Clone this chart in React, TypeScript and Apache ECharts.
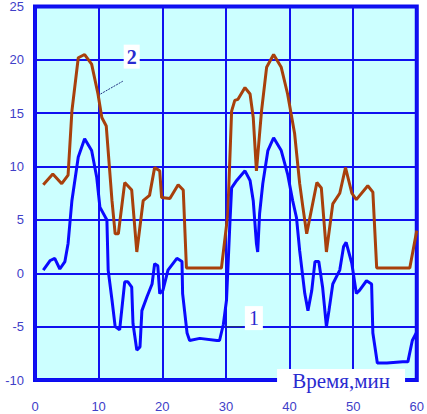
import React, { useEffect, useRef } from "react";
import * as echarts from "echarts";

const xTicks = { min: 0, max: 60, interval: 10 };
const yTicks = { min: -10, max: 25, interval: 5 };

// curve 2 (brown): [time, value]
const curve2: [number, number][] = [
  [1.3, 8.3], [2.8, 9.3], [4.2, 8.4], [5.2, 9.2], [5.8, 15.2], [6.8, 20.2], [7.8, 20.5],
  [8.9, 19.6], [9.9, 16.8], [10.5, 14.6], [11.2, 13.8], [12.1, 6.8], [12.6, 3.7], [13.1, 3.7],
  [14.1, 8.5], [15.2, 7.8], [16.0, 2.0], [17.0, 6.8], [18.0, 7.3], [18.8, 9.9], [19.6, 9.6],
  [19.9, 7.1], [21.2, 7.0], [22.5, 8.3], [23.3, 7.8], [23.8, 0.5], [29.3, 0.5], [30.3, 5.5],
  [30.9, 15.2], [31.4, 16.2], [31.9, 16.3], [33.0, 17.4], [33.8, 16.8], [34.3, 14.6],
  [34.8, 9.6], [35.6, 15.2], [36.4, 19.3], [37.5, 20.5], [38.7, 19.3], [39.7, 16.8],
  [40.8, 13.1], [41.6, 8.4], [42.1, 6.2], [42.7, 3.7], [44.3, 8.5], [45.0, 8.0], [45.8, 2.0],
  [46.8, 6.5], [47.9, 7.5], [48.8, 9.9], [49.8, 7.5], [50.5, 6.9], [52.3, 8.2], [53.1, 7.6],
  [53.7, 0.5], [58.9, 0.5], [60, 4.0],
];

// curve 1 (blue): [time, value]
const curve1: [number, number][] = [
  [1.3, 0.3], [2.4, 1.2], [3.1, 1.4], [3.9, 0.4], [4.7, 1.1], [5.2, 2.8], [5.8, 6.8],
  [6.8, 10.9], [7.8, 12.6], [8.9, 11.5], [9.7, 9.0], [10.2, 6.2], [11.3, 5.0], [11.5, 0.3],
  [12.1, -2.5], [12.6, -5.0], [13.3, -5.3], [14.1, -0.8], [14.6, -0.8], [15.2, -1.3],
  [15.4, -4.7], [16.0, -7.2], [16.5, -6.9], [16.8, -3.5], [17.6, -2.2], [18.4, -1.0],
  [18.8, 0.9], [19.3, 0.7], [19.6, -1.9], [20.1, -1.6], [20.9, 0.3], [22.3, 1.4], [23.1, 1.1],
  [23.2, -1.9], [23.9, -5.6], [24.3, -6.3], [25.9, -6.1], [28.6, -6.3], [29.0, -6.3],
  [29.6, -4.8], [30.1, -2.5], [30.6, 4.3], [30.9, 8.0], [31.7, 8.7], [33.0, 9.6], [33.8, 8.7],
  [34.3, 6.8], [34.8, 2.8], [35.0, 2.0], [35.3, 5.6], [35.8, 8.4], [36.6, 11.5], [37.5, 12.7],
  [38.7, 11.5], [39.7, 9.3], [40.5, 6.8], [41.1, 5.2], [41.6, 2.1], [42.4, -1.9], [42.9, -3.5],
  [43.5, -1.6], [44.0, 1.1], [44.6, 1.1], [45.2, -1.3], [45.8, -5.0], [46.2, -3.5], [46.8, -1.0],
  [47.9, 0.3], [48.5, 2.5], [48.9, 2.9], [49.8, 0.9], [50.5, -1.9], [51.0, -1.6], [52.1, -0.7],
  [52.9, -1.0], [53.1, -5.6], [53.8, -8.4], [55.3, -8.4], [57.8, -8.3], [58.6, -8.3],
  [59.3, -6.3], [60, -5.5],
];

const curveLabels = ["1", "2"];
const axisTitle = "Время,мин";

export default function App() {
  const ref = useRef<HTMLDivElement>(null);
  useEffect(() => {
    if (!ref.current) return;
    const chart = echarts.init(ref.current, null, { renderer: "svg" });
    const tickColor = "#4040c8";
    const gridBlue = "#1010f0";
    chart.setOption({
      animation: false,
      grid: {
        left: 35,
        right: 10,
        top: 5,
        bottom: 34,
        show: true,
        backgroundColor: "#ccffff",
        borderColor: "#0a0af0",
        borderWidth: 4,
        z: 0,
      },
      xAxis: {
        type: "value",
        min: xTicks.min,
        max: xTicks.max,
        interval: xTicks.interval,
        axisLine: { show: false },
        axisTick: { show: false },
        splitLine: { show: true, lineStyle: { color: gridBlue, width: 2 } },
        axisLabel: {
          color: tickColor,
          fontFamily: "Liberation Sans",
          fontSize: 13,
          margin: 20,
          showMinLabel: true,
          showMaxLabel: true,
          hideOverlap: false,
        },
      },
      yAxis: {
        type: "value",
        min: yTicks.min,
        max: yTicks.max,
        interval: yTicks.interval,
        axisLine: { show: false },
        axisTick: { show: false },
        splitLine: { show: true, lineStyle: { color: gridBlue, width: 2 } },
        axisLabel: {
          color: tickColor,
          fontFamily: "Liberation Sans",
          fontSize: 13,
          margin: 11,
          showMinLabel: true,
          showMaxLabel: true,
        },
      },
      series: [
        {
          type: "line",
          data: curve2,
          symbol: "none",
          lineStyle: { color: "#a8400c", width: 3 },
          z: 3,
        },
        {
          type: "line",
          data: curve1,
          symbol: "none",
          lineStyle: { color: "#0a0aff", width: 3 },
          z: 4,
        },
      ],
    });

    const p = (x: number, y: number) => chart.convertToPixel({ gridIndex: 0 }, [x, y]) as number[];
    const a2 = p(10.3, 16.8);
    const b2 = p(13.8, 18.0);
    const t2 = p(15.2, 20.3);
    const a1 = p(30.0, -5.0);
    const b1 = p(32.6, -5.0);
    const t1 = p(34.4, -4.2);
    const tl = p(48.1, -10);

    chart.setOption({
      graphic: [
        {
          type: "line",
          shape: { x1: a2[0], y1: a2[1], x2: b2[0], y2: b2[1] },
          style: { stroke: "#203080", lineWidth: 1, lineDash: [2, 1] },
          z: 10,
        },
        {
          type: "rect",
          shape: { x: t2[0] - 8, y: t2[1] - 12, width: 16, height: 24 },
          style: { fill: "#ffffff" },
          z: 10,
        },
        {
          type: "text",
          x: t2[0],
          y: t2[1],
          style: {
            text: curveLabels[1],
            fill: "#2a2ad0",
            font: "bold 20px 'Liberation Serif'",
            align: "center",
            verticalAlign: "middle",
          },
          z: 11,
        },
        {
          type: "line",
          shape: { x1: a1[0], y1: a1[1], x2: b1[0], y2: b1[1] },
          style: { stroke: "#203080", lineWidth: 1.2 },
          z: 10,
        },
        {
          type: "rect",
          shape: { x: t1[0] - 9, y: t1[1] - 12, width: 18, height: 24 },
          style: { fill: "#ffffff" },
          z: 10,
        },
        {
          type: "text",
          x: t1[0],
          y: t1[1],
          style: {
            text: curveLabels[0],
            fill: "#2a2ad0",
            font: "20px 'Liberation Serif'",
            align: "center",
            verticalAlign: "middle",
          },
          z: 11,
        },
        {
          type: "rect",
          shape: { x: tl[0] - 64, y: tl[1] - 11, width: 128, height: 24 },
          style: { fill: "#ffffff" },
          z: 10,
        },
        {
          type: "text",
          x: tl[0],
          y: tl[1] + 1,
          style: {
            text: axisTitle,
            fill: "#2a2ad0",
            font: "21px 'Liberation Serif'",
            align: "center",
            verticalAlign: "middle",
          },
          z: 11,
        },
      ],
    });

    return () => chart.dispose();
  }, []);
  return <div ref={ref} style={{ width: 427, height: 414, position: "absolute", left: 0, top: 0 }} />;
}
